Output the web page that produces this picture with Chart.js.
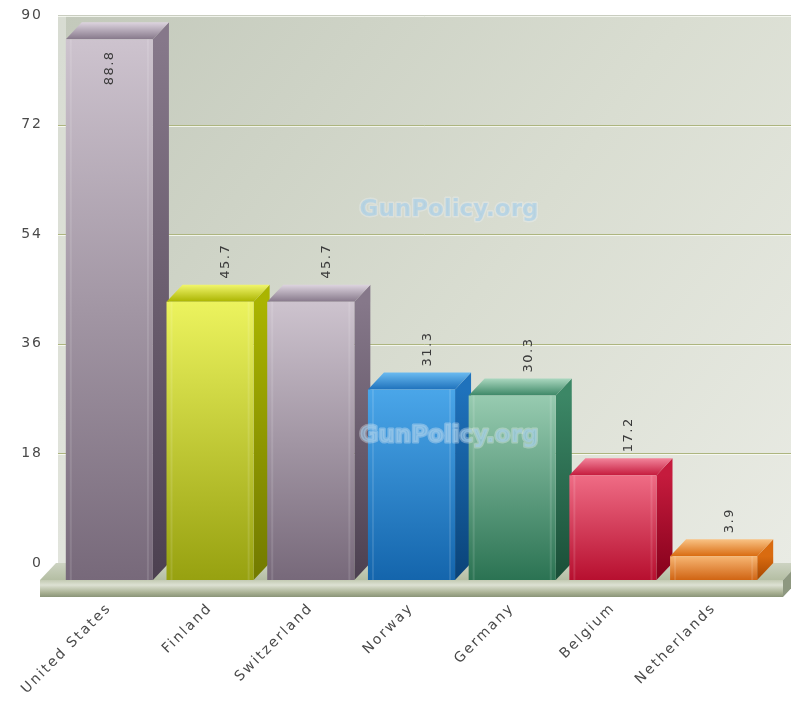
<!DOCTYPE html>
<html>
<head>
<meta charset="utf-8">
<script src="https://cdn.jsdelivr.net/npm/chart.js@4/dist/chart.umd.min.js"></script>
<style>
  html, body { margin: 0; padding: 0; background: #fff; }
  #chart { display: block; }
</style>
</head>
<body>
<canvas id="chart" width="791" height="702"></canvas>
<script>
const categories = ['United States', 'Finland', 'Switzerland', 'Norway', 'Germany', 'Belgium', 'Netherlands'];
const rates = [88.8, 45.7, 45.7, 31.3, 30.3, 17.2, 3.9];
const yTicks = [0, 18, 36, 54, 72, 90];
const watermark = 'GunPolicy.org';

// front top, front bottom, top face, side top, side bottom
const mauve = ['#cdc3ce', '#77697a', '#ddd4df', '#86788a', '#4c4050'];
const palette = [
  mauve,
  ['#ecf35e', '#97a110', '#f1f66c', '#aab400', '#727a00'],
  mauve,
  ['#4aa6e9', '#1465ac', '#6bbbf1', '#1f72bc', '#0a4378'],
  ['#97cbb0', '#2b7353', '#aad7bf', '#3c8766', '#194e37'],
  ['#ef6c85', '#b70f2f', '#f2849b', '#c51b3d', '#85001b'],
  ['#f7b673', '#d06413', '#f9c385', '#d96b10', '#a64700']
];

const DX = 16, DY = -17;
const FONT = 'DejaVu Sans, Verdana, sans-serif';

function spacing(ctx, v) {
  if ('letterSpacing' in ctx) ctx.letterSpacing = v;
}

function frontFill(context) {
  const chart = context.chart;
  const c = palette[context.dataIndex] || mauve;
  if (context.type !== 'data' || !chart.scales.y) return c[1];
  const y = chart.scales.y.getPixelForValue(context.raw);
  const base = chart.scales.y.getPixelForValue(0);
  if (!isFinite(y) || !isFinite(base) || y === base) return c[1];
  const g = chart.ctx.createLinearGradient(0, y, 0, base);
  g.addColorStop(0, c[0]);
  g.addColorStop(1, c[1]);
  return g;
}

const box3d = {
  id: 'box3d',
  beforeUpdate(chart) { spacing(chart.ctx, '2px'); },
  beforeLayout(chart) { spacing(chart.ctx, '2px'); },
  beforeDraw(chart) {
    const ctx = chart.ctx;
    const a = chart.chartArea;
    const ys = chart.scales.y;
    ctx.save();
    // back wall
    const wl = a.left - 1, wt = a.top + DY, wb = a.bottom + DY;
    const wg = ctx.createLinearGradient(wl, wt, chart.width, wb);
    wg.addColorStop(0, '#c3c9bb');
    wg.addColorStop(0.55, '#d9ddd1');
    wg.addColorStop(1, '#e9ebe4');
    ctx.fillStyle = wg;
    ctx.fillRect(wl, wt, chart.width - wl, wb - wt);
    ctx.fillStyle = 'rgba(255,255,255,0.35)';
    ctx.fillRect(wl, wt, 8, wb - wt);
    // grid lines on back wall
    yTicks.forEach(v => {
      if (v === 0) return;
      const y = Math.round(ys.getPixelForValue(v) + DY) + 0.5;
      ctx.strokeStyle = v === 90 ? '#c9cdc0' : '#adb57f';
      ctx.lineWidth = 1;
      ctx.beginPath(); ctx.moveTo(wl, y); ctx.lineTo(chart.width, y); ctx.stroke();
      ctx.strokeStyle = 'rgba(250,252,245,0.8)';
      ctx.beginPath(); ctx.moveTo(wl, y + 1); ctx.lineTo(chart.width, y + 1); ctx.stroke();
    });
    // floor
    const fl = a.left - 19, fr = a.right + 19, fb = a.bottom, ft = 17;
    const tg = ctx.createLinearGradient(0, fb + DY, 0, fb);
    tg.addColorStop(0, '#cdd3c2');
    tg.addColorStop(1, '#b4bea3');
    ctx.fillStyle = tg;
    ctx.beginPath();
    ctx.moveTo(fl, fb); ctx.lineTo(fr, fb); ctx.lineTo(fr + DX, fb + DY); ctx.lineTo(fl + DX, fb + DY);
    ctx.closePath(); ctx.fill();
    const sg = ctx.createLinearGradient(0, fb, 0, fb + ft);
    sg.addColorStop(0, '#c3cab3');
    sg.addColorStop(0.3, '#dde1d3');
    sg.addColorStop(0.75, '#a8b092');
    sg.addColorStop(1, '#8a9478');
    ctx.fillStyle = sg;
    ctx.fillRect(fl, fb, fr - fl, ft);
    ctx.fillStyle = '#8e9880';
    ctx.beginPath();
    ctx.moveTo(fr, fb); ctx.lineTo(fr + DX, fb + DY); ctx.lineTo(fr + DX, fb + DY + ft); ctx.lineTo(fr, fb + ft);
    ctx.closePath(); ctx.fill();
    ctx.restore();
    spacing(ctx, '2px');
  },
  beforeDatasetsDraw(chart) {
    const ctx = chart.ctx;
    const meta = chart.getDatasetMeta(0);
    ctx.save();
    meta.data.forEach((bar, i) => {
      const c = palette[i];
      const l = bar.x - bar.width / 2, r = bar.x + bar.width / 2, t = bar.y, b = bar.base;
      // side face
      const sg = ctx.createLinearGradient(0, t, 0, b);
      sg.addColorStop(0, c[3]);
      sg.addColorStop(1, c[4]);
      ctx.fillStyle = sg;
      ctx.beginPath();
      ctx.moveTo(r, t); ctx.lineTo(r + DX, t + DY); ctx.lineTo(r + DX, b + DY); ctx.lineTo(r, b);
      ctx.closePath(); ctx.fill();
      // top face
      const tg = ctx.createLinearGradient(0, t + DY, 0, t);
      tg.addColorStop(0, c[2]);
      tg.addColorStop(1, c[3]);
      ctx.fillStyle = tg;
      ctx.beginPath();
      ctx.moveTo(l, t); ctx.lineTo(r, t); ctx.lineTo(r + DX, t + DY); ctx.lineTo(l + DX, t + DY);
      ctx.closePath(); ctx.fill();
    });
    ctx.restore();
  },
  afterDatasetsDraw(chart) {
    const ctx = chart.ctx;
    const meta = chart.getDatasetMeta(0);
    ctx.save();
    // faint highlight strips on front faces
    meta.data.forEach(bar => {
      const l = bar.x - bar.width / 2, r = bar.x + bar.width / 2;
      ctx.fillStyle = 'rgba(255,255,255,0.12)';
      ctx.fillRect(l + 4, bar.y, 2, bar.base - bar.y);
      ctx.fillRect(r - 6, bar.y, 2, bar.base - bar.y);
    });
    // value labels
    ctx.font = '13px ' + FONT;
    spacing(ctx, '1.5px');
    ctx.fillStyle = '#3a3a3a';
    ctx.textBaseline = 'middle';
    ctx.textAlign = 'left';
    meta.data.forEach((bar, i) => {
      const txt = rates[i].toFixed(1);
      const w = ctx.measureText(txt).width;
      let x = bar.x + DX, y = bar.y + DY - 6;
      if (y - w < 0) { x = bar.x; y = bar.y + 46; }
      ctx.save();
      ctx.translate(x, y);
      ctx.rotate(-Math.PI / 2);
      ctx.fillText(txt, 0, 0);
      ctx.restore();
    });
    // watermarks
    spacing(ctx, '0px');
    ctx.font = 'bold 23px ' + FONT;
    ctx.textAlign = 'center';
    ctx.textBaseline = 'middle';
    ctx.lineJoin = 'round';
    [210, 436].forEach(y => {
      ctx.lineWidth = 3;
      ctx.strokeStyle = 'rgba(235,242,246,0.35)';
      ctx.strokeText(watermark, 449, y);
      ctx.fillStyle = 'rgba(160,204,234,0.6)';
      ctx.fillText(watermark, 449, y);
    });
    ctx.restore();
    spacing(ctx, '2px');
  }
};

new Chart(document.getElementById('chart'), {
  type: 'bar',
  data: {
    labels: categories,
    datasets: [{
      data: rates,
      backgroundColor: frontFill,
      borderWidth: 0,
      barPercentage: 0.865,
      categoryPercentage: 1
    }]
  },
  options: {
    responsive: false,
    animation: false,
    events: [],
    layout: { padding: { left: 0, top: 32, right: 27, bottom: 0 } },
    plugins: { legend: { display: false }, tooltip: { enabled: false } },
    scales: {
      x: {
        grid: { display: false },
        border: { display: false },
        afterFit(scale) { scale.height = 122; },
        ticks: {
          autoSkip: false,
          minRotation: 45,
          maxRotation: 45,
          padding: 12,
          color: '#4a4a4a',
          font: { family: FONT, size: 14 }
        }
      },
      y: {
        min: 0,
        max: 90,
        grid: { display: false },
        border: { display: false },
        afterFit(scale) { scale.width = 59; },
        afterBuildTicks(scale) { scale.ticks = yTicks.map(v => ({ value: v })); },
        ticks: {
          padding: 8,
          labelOffset: DY,
          color: '#4a4a4a',
          font: { family: FONT, size: 14 }
        }
      }
    }
  },
  plugins: [box3d]
});
</script>
</body>
</html>
